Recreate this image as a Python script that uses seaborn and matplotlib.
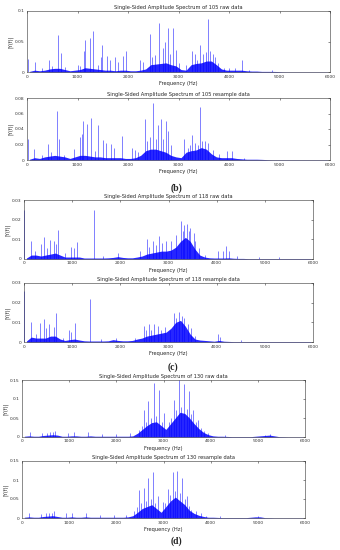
"""Single-sided amplitude spectra of raw and resampled bearing data."""

import matplotlib.pyplot as plt
import numpy as np
import seaborn as sns

sns.set_theme(style="white")
plt.rcParams["font.family"] = ["DejaVu Sans"]

# floor of the dense spectrum, one value per 100 Hz bin (0..5900 Hz)
BIN_HZ = 100
floor_105_raw = [
    0.001, 0.003, 0.002, 0.003, 0.005, 0.006, 0.006, 0.004, 0.002, 0.003,
    0.004, 0.007, 0.006, 0.005, 0.004, 0.003, 0.003, 0.002, 0.003, 0.003,
    0.002, 0.002, 0.003, 0.005, 0.012, 0.013, 0.014, 0.015, 0.012, 0.010,
    0.004, 0.003, 0.012, 0.014, 0.015, 0.018, 0.018, 0.012, 0.005, 0.003,
    0.003, 0.003, 0.003, 0.002, 0.0015, 0.0015, 0.001, 0.001, 0.001, 0.0008,
    0.0004, 0.0003, 0.0003, 0.0003, 0.0003, 0.0003, 0.0003, 0.0003, 0.0003, 0.0003,
]
floor_105_res = [
    0.001, 0.003, 0.002, 0.004, 0.005, 0.006, 0.005, 0.004, 0.002, 0.004,
    0.006, 0.006, 0.005, 0.004, 0.004, 0.003, 0.003, 0.003, 0.003, 0.002,
    0.002, 0.003, 0.006, 0.012, 0.014, 0.014, 0.012, 0.010, 0.006, 0.004,
    0.003, 0.010, 0.012, 0.013, 0.016, 0.014, 0.008, 0.004, 0.003, 0.003,
    0.003, 0.002, 0.0015, 0.001, 0.001, 0.001, 0.0008, 0.0005, 0.0003, 0.0003,
    0.0003, 0.0003, 0.0003, 0.0003, 0.0003, 0.0003, 0.0003, 0.0003, 0.0003, 0.0003,
]
floor_118_raw = [
    0.0005, 0.002, 0.002, 0.0015, 0.002, 0.0025, 0.003, 0.002, 0.001, 0.001,
    0.001, 0.001, 0.0005, 0.0005, 0.0005, 0.0005, 0.0005, 0.0006, 0.0008, 0.0012,
    0.0008, 0.0006, 0.0006, 0.001, 0.0015, 0.0025, 0.003, 0.0035, 0.004, 0.004,
    0.0045, 0.006, 0.009, 0.011, 0.009, 0.005, 0.002, 0.001, 0.0006, 0.0005,
    0.0005, 0.0005, 0.0006, 0.0004, 0.0003, 0.0003, 0.0002, 0.0002, 0.0002, 0.0002,
    0.0002, 0.0002, 0.0002, 0.0002, 0.0002, 0.0002, 0.0002, 0.0002, 0.0002, 0.0002,
]
floor_118_res = [
    0.0005, 0.0025, 0.002, 0.002, 0.002, 0.003, 0.003, 0.0015, 0.0008, 0.0012,
    0.0015, 0.001, 0.0006, 0.0005, 0.0005, 0.0005, 0.0005, 0.0006, 0.0012, 0.0008,
    0.0006, 0.0006, 0.0008, 0.0015, 0.002, 0.003, 0.0035, 0.004, 0.0045, 0.005,
    0.007, 0.010, 0.011, 0.008, 0.004, 0.0015, 0.001, 0.0008, 0.0006, 0.0004,
    0.0008, 0.0004, 0.0003, 0.0002, 0.0002, 0.0002, 0.0002, 0.0002, 0.0002, 0.0002,
    0.0002, 0.0002, 0.0002, 0.0002, 0.0002, 0.0002, 0.0002, 0.0002, 0.0002, 0.0002,
]
floor_130_raw = [
    0.002, 0.003, 0.002, 0.002, 0.004, 0.005, 0.006, 0.005, 0.002, 0.002,
    0.003, 0.003, 0.002, 0.002, 0.003, 0.002, 0.002, 0.002, 0.002, 0.002,
    0.002, 0.002, 0.002, 0.003, 0.010, 0.020, 0.030, 0.038, 0.040, 0.030,
    0.020, 0.035, 0.050, 0.065, 0.062, 0.050, 0.035, 0.022, 0.012, 0.006,
    0.003, 0.002, 0.002, 0.0015, 0.001, 0.001, 0.001, 0.001, 0.001, 0.002,
    0.003, 0.004, 0.005, 0.003, 0.001, 0.0008, 0.0005, 0.0005, 0.0005, 0.0005,
]
floor_130_res = [
    0.002, 0.003, 0.002, 0.002, 0.004, 0.005, 0.006, 0.004, 0.002, 0.002,
    0.003, 0.002, 0.002, 0.003, 0.002, 0.002, 0.002, 0.002, 0.002, 0.002,
    0.002, 0.002, 0.003, 0.006, 0.015, 0.025, 0.030, 0.035, 0.025, 0.015,
    0.030, 0.045, 0.055, 0.045, 0.035, 0.020, 0.012, 0.007, 0.004, 0.002,
    0.002, 0.0015, 0.001, 0.001, 0.001, 0.001, 0.001, 0.001, 0.002, 0.003,
    0.003, 0.001, 0.0008, 0.0005, 0.0005, 0.0005, 0.0005, 0.0005, 0.0005, 0.0005,
]

# isolated spectral lines (Hz, |Y(f)|)
peak_f_105_raw = [10, 160, 300, 440, 500, 610, 670, 760, 1000, 1050, 1130, 1150,
                  1250, 1310, 1400, 1460, 1480, 1580, 1640, 1740, 1810, 1900, 1960,
                  2240, 2300, 2430, 2470, 2540, 2610, 2690, 2730, 2790, 2840, 2890,
                  2950, 3010, 3150, 3260, 3330, 3360, 3420, 3480, 3540, 3590, 3620,
                  3680, 3730, 3780, 3900, 4000, 4120, 4250, 4400, 4850]
peak_a_105_raw = [0.022, 0.017, 0.006, 0.020, 0.010, 0.061, 0.031, 0.008, 0.012, 0.010,
                  0.034, 0.053, 0.055, 0.068, 0.012, 0.025, 0.044, 0.026, 0.020, 0.024,
                  0.017, 0.026, 0.034, 0.019, 0.016, 0.062, 0.025, 0.028, 0.080, 0.039,
                  0.050, 0.072, 0.030, 0.072, 0.036, 0.015, 0.012, 0.034, 0.030, 0.020,
                  0.045, 0.030, 0.032, 0.087, 0.034, 0.030, 0.024, 0.015, 0.007, 0.006,
                  0.007, 0.020, 0.004, 0.003]
peak_f_105_res = [10, 145, 290, 422, 480, 587, 640, 730, 930, 1050, 1080, 1100,
                  1195, 1260, 1350, 1412, 1511, 1564, 1663, 1723, 1875, 2072, 2140,
                  2200, 2337, 2380, 2440, 2502, 2560, 2600, 2653, 2700, 2752, 2799,
                  2850, 3115, 3180, 3228, 3261, 3320, 3380, 3426, 3470, 3530, 3580,
                  3690, 3800, 3954, 4053, 4300]
peak_a_105_res = [0.027, 0.014, 0.006, 0.021, 0.010, 0.063, 0.027, 0.007, 0.014, 0.030,
                  0.033, 0.050, 0.046, 0.054, 0.012, 0.045, 0.026, 0.022, 0.021, 0.016,
                  0.031, 0.016, 0.013, 0.010, 0.053, 0.025, 0.030, 0.073, 0.027, 0.045,
                  0.053, 0.027, 0.050, 0.037, 0.020, 0.027, 0.015, 0.020, 0.032, 0.022,
                  0.020, 0.068, 0.024, 0.024, 0.022, 0.013, 0.008, 0.011, 0.012, 0.003]
peak_f_118_raw = [8, 152, 235, 353, 422, 470, 547, 630, 660, 699, 850, 983, 1040,
                  1100, 1446, 1650, 1952, 2400, 2554, 2600, 2678, 2750, 2810, 2870,
                  2948, 3059, 3150, 3266, 3300, 3329, 3384, 3420, 3453, 3522, 3560,
                  3626, 3750, 4028, 4140, 4200, 4250, 4420, 4870, 5300]
peak_a_118_raw = [0.025, 0.0093, 0.004, 0.0078, 0.011, 0.0056, 0.0098, 0.009, 0.0076,
                  0.015, 0.003, 0.006, 0.0056, 0.0085, 0.025, 0.0015, 0.003, 0.004,
                  0.0103, 0.006, 0.0093, 0.007, 0.0115, 0.008, 0.0093, 0.009, 0.0124,
                  0.0195, 0.014, 0.0175, 0.018, 0.014, 0.0158, 0.013, 0.009, 0.0056,
                  0.002, 0.004, 0.0042, 0.0064, 0.004, 0.0014, 0.001, 0.0008]
peak_f_118_res = [8, 145, 250, 339, 408, 460, 526, 620, 664, 800, 927, 980, 1066,
                  1377, 1600, 1900, 2300, 2485, 2540, 2588, 2640, 2692, 2790, 2850,
                  2920, 3030, 3107, 3150, 3225, 3270, 3322, 3400, 3474, 3550, 4028,
                  4070, 4500]
peak_a_118_res = [0.026, 0.0103, 0.004, 0.0097, 0.0115, 0.0073, 0.009, 0.0076, 0.015,
                  0.002, 0.006, 0.0053, 0.0098, 0.0217, 0.0015, 0.002, 0.002, 0.008,
                  0.006, 0.0093, 0.006, 0.0093, 0.008, 0.006, 0.0076, 0.006, 0.015,
                  0.0124, 0.0155, 0.013, 0.012, 0.0093, 0.0073, 0.003, 0.004, 0.0025,
                  0.001]
peak_f_130_raw = [170, 420, 520, 600, 660, 700, 980, 1100, 1406, 1700, 2000, 2290,
                  2480, 2540, 2587, 2630, 2679, 2740, 2799, 2850, 2905, 2960, 3011,
                  3110, 3160, 3216, 3270, 3329, 3380, 3435, 3490, 3541, 3590, 3633,
                  3690, 3739, 3800, 3850, 3950, 4300, 5150, 5250]
peak_a_130_raw = [0.012, 0.010, 0.0105, 0.013, 0.013, 0.0167, 0.0105, 0.012, 0.012,
                  0.008, 0.007, 0.0105, 0.019, 0.030, 0.070, 0.040, 0.0956, 0.050,
                  0.142, 0.055, 0.123, 0.040, 0.063, 0.040, 0.050, 0.0965, 0.070,
                  0.150, 0.080, 0.139, 0.075, 0.120, 0.060, 0.072, 0.040, 0.046,
                  0.025, 0.015, 0.010, 0.004, 0.006, 0.007]
peak_f_130_res = [155, 410, 500, 580, 640, 686, 930, 1050, 1349, 1650, 1950, 2200,
                  2374, 2430, 2480, 2530, 2580, 2630, 2679, 2730, 2785, 2830, 2884,
                  2980, 3040, 3088, 3140, 3194, 3240, 3293, 3350, 3399, 3450, 3491,
                  3540, 3590, 3690, 3790, 3900, 4200, 5000]
peak_a_130_res = [0.013, 0.010, 0.012, 0.013, 0.014, 0.0175, 0.012, 0.012, 0.013,
                  0.008, 0.007, 0.008, 0.019, 0.030, 0.0746, 0.040, 0.078, 0.045,
                  0.105, 0.050, 0.122, 0.040, 0.059, 0.041, 0.040, 0.076, 0.060,
                  0.120, 0.070, 0.125, 0.065, 0.104, 0.050, 0.059, 0.032, 0.022,
                  0.019, 0.012, 0.006, 0.004, 0.004]

titles = [
    "Single-Sided Amplitude Spectrum of 105 raw data",
    "Single-Sided Amplitude Spectrum of 105 resample data",
    "Single-Sided Amplitude Spectrum of 118 raw data",
    "Single-Sided Amplitude Spectrum of 118 resample data",
    "Single-Sided Amplitude Spectrum of 130 raw data",
    "Single-Sided Amplitude Spectrum of 130 resample data",
]
yticks_105_raw = [0, 0.05, 0.1]
yticks_105_res = [0, 0.02, 0.04, 0.06, 0.08]
yticks_118 = [0, 0.01, 0.02, 0.03]
yticks_130 = [0, 0.05, 0.1, 0.15]
xticks = [0, 1000, 2000, 3000, 4000, 5000, 6000]
panel_labels = ["(b)", "(c)", "(d)"]

panels = [
    (floor_105_raw, peak_f_105_raw, peak_a_105_raw, yticks_105_raw),
    (floor_105_res, peak_f_105_res, peak_a_105_res, yticks_105_res),
    (floor_118_raw, peak_f_118_raw, peak_a_118_raw, yticks_118),
    (floor_118_res, peak_f_118_res, peak_a_118_res, yticks_118),
    (floor_130_raw, peak_f_130_raw, peak_a_130_raw, yticks_130),
    (floor_130_res, peak_f_130_res, peak_a_130_res, yticks_130),
]

# axes boxes in pixels: left, right, top, bottom
W, H = 340, 550
boxes = [(27, 330, 11, 72), (27, 330, 98, 160),
         (24, 313, 200, 259), (24, 313, 283, 342),
         (22, 305, 380, 437), (22, 305, 461, 518)]
label_pos = [(176, 188), (173, 367), (176, 541)]

BLUE = "#0000ff"
fig = plt.figure(figsize=(W / 100, H / 100), dpi=100)

for i, ((floor, pf, pa, yt), (l, r, t, b)) in enumerate(zip(panels, boxes)):
    ax = fig.add_axes([l / W, 1 - b / H, (r - l) / W, (b - t) / H])
    fx = np.arange(len(floor)) * BIN_HZ + BIN_HZ / 2
    ax.fill_between(fx, 0, floor, color=BLUE, alpha=0.85, lw=0)
    ax.vlines(pf, 0, pa, color=BLUE, lw=0.5, alpha=0.7)
    ax.set_xlim(0, 6000)
    ax.set_ylim(0, yt[-1])
    ax.set_xticks(xticks)
    ax.set_xticklabels([str(v) for v in xticks])
    ax.set_yticks(yt)
    ax.set_yticklabels([f"{v:g}" for v in yt])
    ax.tick_params(direction="in", length=1.5, width=0.4, labelsize=3.2,
                   pad=1.8, top=True, right=True, colors="#333333")
    for s in ax.spines.values():
        s.set_linewidth(0.4)
        s.set_color("#333333")
    ax.set_title(titles[i], fontsize=3.7, pad=1.5)
    ax.set_xlabel("Frequency (Hz)", fontsize=3.7, labelpad=1.8)
    ax.set_ylabel("|Y(f)|", fontsize=3.7, labelpad=1)

for txt, (x, y) in zip(panel_labels, label_pos):
    fig.text(x / W, 1 - y / H, txt, ha="center", va="center",
             fontsize=7, fontweight="bold", family="Liberation Serif")

fig.savefig("out.png", dpi=100)
